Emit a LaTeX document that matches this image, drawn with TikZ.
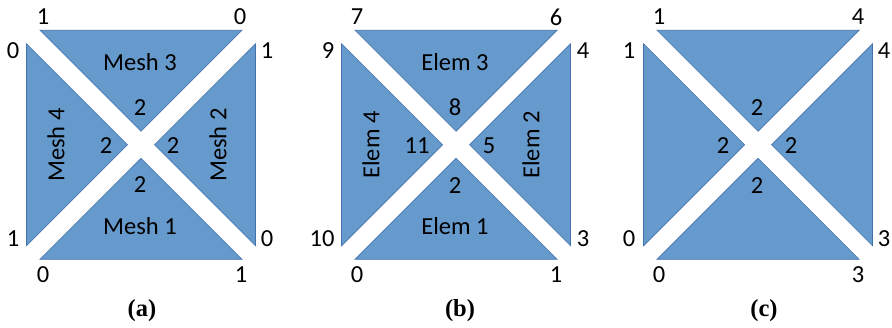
\documentclass[tikz,border=0pt]{standalone}
\usepackage{fontspec}
\setmainfont{Carlito}
\newfontfamily\capfont{Liberation Serif}[BoldFont={Liberation Serif Bold}]
\definecolor{triFill}{RGB}{103,154,204}
\definecolor{triEdge}{RGB}{66,113,172}
\tikzset{
  tri/.style={fill=triFill,draw=triEdge,line width=0.7pt,line join=miter},
  lab/.style={inner sep=0pt,font=\fontsize{24.5}{24.5}\selectfont},
  captext/.style={inner sep=0pt,font=\capfont\bfseries\fontsize{24.5}{24.5}\selectfont}
}
\newcommand\tris[1]{%
  \begin{scope}[shift={(#1,144.75)}]
    \path[tri] (-101,-114.5) -- (101,-114.5) -- (0,-13.5) -- cycle;
    \path[tri] (-101,114.5) -- (101,114.5) -- (0,13.5) -- cycle;
    \path[tri] (-114.5,-101) -- (-114.5,101) -- (-13.5,0) -- cycle;
    \path[tri] (114.5,-101) -- (114.5,101) -- (13.5,0) -- cycle;
  \end{scope}}
\begin{document}
\begin{tikzpicture}[x=1pt,y=-1pt]
\useasboundingbox (0,0) rectangle (892,327);
\tris{141}
\tris{456}
\tris{758}
% panel (a)
\node[lab] (a1) at (43,17) {1};
\node[lab] (a2) at (240,17) {0};
\node[lab] (a3) at (13,51) {0};
\node[lab] (a4) at (267,51) {1};
\node[lab] (a5) at (13,239) {1};
\node[lab] (a6) at (267,239) {0};
\node[lab] (a7) at (43,275) {0};
\node[lab] (a8) at (241,275) {1};
\node[lab] (am3) at (140,62) {Mesh 3};
\node[lab] (am1) at (140,226) {Mesh 1};
\node[lab,rotate=90] (am4) at (56,145) {Mesh 4};
\node[lab,rotate=90] (am2) at (218,145) {Mesh 2};
\node[lab] (ac1) at (140,108) {2};
\node[lab] (ac2) at (106,146) {2};
\node[lab] (ac3) at (173,146) {2};
\node[lab] (ac4) at (140,185) {2};
\node[captext] (capa) at (142,311) {(a)};
% panel (b)
\node[lab] (b1) at (357,17) {7};
\node[lab] (b2) at (556,17) {6};
\node[lab] (b3) at (328,51) {9};
\node[lab] (b4) at (583,51) {4};
\node[lab] (b5) at (322,239) {10};
\node[lab] (b6) at (583,239) {3};
\node[lab] (b7) at (357,275) {0};
\node[lab] (b8) at (556,275) {1};
\node[lab] (bm3) at (455,62) {Elem 3};
\node[lab] (bm1) at (455,226) {Elem 1};
\node[lab,rotate=90] (bm4) at (371,145) {Elem 4};
\node[lab,rotate=90] (bm2) at (531,145) {Elem 2};
\node[lab] (bc1) at (455,107) {8};
\node[lab] (bc2) at (417,146) {11};
\node[lab] (bc3) at (489,146) {5};
\node[lab] (bc4) at (455,186) {2};
\node[captext] (capb) at (460,311) {(b)};
% panel (c)
\node[lab] (c1) at (659,17) {1};
\node[lab] (c2) at (858,17) {4};
\node[lab] (c3) at (629,51) {1};
\node[lab] (c4) at (884,51) {4};
\node[lab] (c5) at (629,239) {0};
\node[lab] (c6) at (884,239) {3};
\node[lab] (c7) at (659,275) {0};
\node[lab] (c8) at (858,275) {3};
\node[lab] (cc1) at (757,108) {2};
\node[lab] (cc2) at (723,146) {2};
\node[lab] (cc3) at (791,146) {2};
\node[lab] (cc4) at (757,186) {2};
\node[captext] (capc) at (764,311) {(c)};
\end{tikzpicture}
\end{document}
